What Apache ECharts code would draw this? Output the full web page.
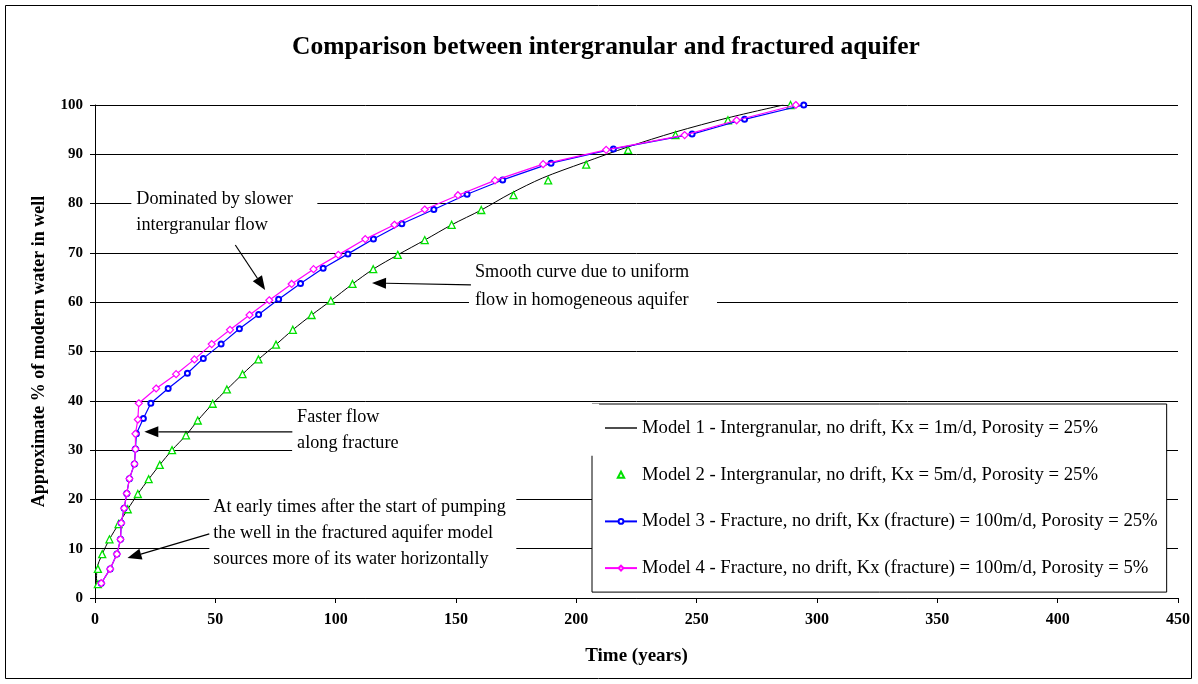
<!DOCTYPE html>
<html>
<head>
<meta charset="utf-8">
<script src="https://cdn.jsdelivr.net/npm/echarts@6/dist/echarts.min.js"></script>
<style>
html,body{margin:0;padding:0;background:#fff;}
#main{width:1198px;height:684px;}
</style>
</head>
<body>
<div id="main"></div>
<script>
// ---------- DATA ----------
const seriesNames = [
  'Model 1 - Intergranular, no drift, Kx = 1m/d, Porosity = 25%',
  'Model 2 - Intergranular, no drift, Kx = 5m/d, Porosity = 25%',
  'Model 3 - Fracture, no drift, Kx (fracture) = 100m/d, Porosity = 25%',
  'Model 4 - Fracture, no drift, Kx (fracture) = 100m/d, Porosity = 5%'
];
const model1Time = [0.6,0.8,3,6,9.8,13.6,17.8,22.3,26.9,32,37.8,42.7,48.9,54.8,61.3,67.9,75.2,82.2,90,98,107,115.6,125.8,137,148.2,160.5,172.5,186,203,221.5,241,263,286];
const model1Pct  = [2.8,5.9,8.9,11.9,15,18,21.1,24.1,27,30,33,36,39.4,42.3,45.4,48.4,51.4,54.4,57.4,60.3,63.7,66.7,69.6,72.6,75.7,78.7,82,85.2,88.3,91.5,94.5,97.4,100];
const model2Time = [1.2,1.2,3,6,9.8,13.6,17.8,22.3,26.9,32,37.8,42.7,48.9,54.8,61.3,67.9,75.2,82.2,90,98,107,115.6,125.8,137,148.2,160.5,173.9,188.3,204.1,221.5,241.2,263,289];
const model2Pct  = [2.8,5.9,8.9,11.9,15,18,21.1,24.1,27,30,33,36,39.4,42.3,45.4,48.4,51.4,54.4,57.4,60.3,63.7,66.7,69.6,72.6,75.7,78.7,81.7,84.7,87.9,90.9,93.9,96.9,100];
const model3Time = [2.6,6.3,9.1,10.6,10.9,12.1,13.2,14.3,16.4,16.8,17.2,20.1,23.2,30.4,38.4,45,52.4,60,68,76.3,85.4,94.8,105.1,115.7,127.5,140.8,154.6,169.4,189.5,215.4,248.1,269.9,294.5];
const model3Pct  = [3.0,5.9,8.9,11.9,15.2,18.2,21.2,24.2,27.2,30.2,33.3,36.4,39.5,42.5,45.6,48.6,51.5,54.6,57.5,60.6,63.8,66.9,69.8,72.8,75.9,78.8,81.9,84.8,88.2,91.1,94.1,97.1,100];
const model4Time = [2.6,6.3,9.1,10.6,10.9,12.1,13.2,14.3,16.4,16.8,16.8,17.8,18.2,25.4,33.7,41.3,48.5,56.1,64.2,72.4,81.7,90.8,101.1,112.3,124.4,137,150.8,166.2,186.2,212.4,245,266.6,291.2];
const model4Pct  = [3.0,5.9,8.9,11.9,15.2,18.2,21.2,24.2,27.2,30.2,33.3,36.2,39.5,42.5,45.4,48.4,51.5,54.4,57.4,60.4,63.7,66.7,69.6,72.8,75.7,78.8,81.7,84.7,88,90.9,93.9,96.9,100];
const titleText = 'Comparison between intergranular and fractured aquifer';
const xAxisTitle = 'Time (years)';
const yAxisTitle = 'Approximate % of modern water in well';
const annotationTexts = [
  'Dominated by slower\nintergranular flow',
  'Smooth curve due to uniform\nflow in homogeneous aquifer',
  'Faster flow\nalong fracture',
  'At early times after the start of pumping\nthe well in the fractured aquifer model\nsources more of its water horizontally'
];
// ---------- END DATA ----------

const pair = (xs, ys) => xs.map((x, i) => [x, ys[i]]);
const FONT = '"Liberation Serif", "Times New Roman", serif';

const triPath = 'path://M0,-10L9,7L-9,7Z';
const diaPath = 'path://M0,-10L10,0L0,10L-10,0Z';

const chart = echarts.init(document.getElementById('main'), null, {renderer: 'canvas'});

const option = {
  animation: false,
  backgroundColor: '#fff',
  textStyle: {fontFamily: FONT},
  title: {
    text: titleText,
    left: 601, textAlign: 'center', top: 29,
    textStyle: {fontFamily: FONT, fontSize: 25.5, fontWeight: 'bold', color: '#000'}
  },
  grid: {left: 95, right: 20, top: 105, bottom: 86, containLabel: false},
  xAxis: {
    type: 'value', min: 0, max: 450, interval: 50,
    name: xAxisTitle, nameLocation: 'middle', nameGap: 49,
    nameTextStyle: {fontFamily: FONT, fontSize: 19, fontWeight: 'bold', color: '#000'},
    axisLine: {lineStyle: {color: '#000', width: 1}},
    axisTick: {show: true, length: 5, lineStyle: {color: '#000'}},
    axisLabel: {fontFamily: FONT, fontSize: 16, fontWeight: 'bold', color: '#000', margin: 14},
    splitLine: {show: false}
  },
  yAxis: {
    type: 'value', min: 0, max: 100, interval: 10,
    name: yAxisTitle, nameLocation: 'middle', nameGap: 47,
    nameTextStyle: {fontFamily: FONT, fontSize: 18, fontWeight: 'bold', color: '#000'},
    axisLine: {show: true, lineStyle: {color: '#000', width: 1}},
    axisTick: {show: true, length: 5, lineStyle: {color: '#000'}},
    axisLabel: {fontFamily: FONT, fontSize: 15, fontWeight: 'bold', color: '#000', margin: 12},
    splitLine: {show: true, lineStyle: {color: '#000', width: 1}}
  },
  legend: {
    orient: 'vertical', left: 592, top: 404,
    padding: [14, 9, 14, 12],
    itemGap: 26.7, itemWidth: 32, itemHeight: 6,
    backgroundColor: '#fff', borderColor: '#000', borderWidth: 1,
    textStyle: {fontFamily: FONT, fontSize: 18.7, color: '#000', lineHeight: 20},
    data: [
      {name: seriesNames[0], icon: 'path://M0,0L32,0L32,1.4L0,1.4Z'},
      seriesNames[1], seriesNames[2], seriesNames[3]
    ]
  },
  series: [
    {
      name: seriesNames[0], type: 'line', data: pair(model1Time, model1Pct),
      showSymbol: false, symbol: 'none', smooth: 0.3,
      lineStyle: {color: '#000', width: 1}, itemStyle: {color: '#000'}, z: 3
    },
    {
      name: seriesNames[1], type: 'scatter', data: pair(model2Time, model2Pct),
      symbol: triPath, symbolSize: 7,
      itemStyle: {color: '#fff', borderColor: '#00e000', borderWidth: 1.3, opacity: 1}, z: 4
    },
    {
      name: seriesNames[2], type: 'line', data: pair(model3Time, model3Pct),
      symbol: 'emptyCircle', symbolSize: 5, showAllSymbol: true,
      lineStyle: {color: '#0000ff', width: 1.2},
      itemStyle: {color: '#0000ff', borderColor: '#0000ff', borderWidth: 1}, z: 5
    },
    {
      name: seriesNames[3], type: 'line', data: pair(model4Time, model4Pct),
      symbol: diaPath, symbolSize: 7, showAllSymbol: true,
      lineStyle: {color: '#ff00ff', width: 1.2},
      itemStyle: {color: '#fff', borderColor: '#ff00ff', borderWidth: 1.2}, z: 6
    }
  ]
};
chart.setOption(option);

// ---------- annotations (anchored in data coordinates) ----------
const annLayout = [
  {box: [15.1, 83.6], w: 186, h: 51, padL: 5, lh: 26},
  {box: [155.4, 69.0], w: 248, h: 56, padL: 6, lh: 28},
  {box: [81.9, 39.4], w: 307, h: 52, padL: 5, lh: 26},
  {box: [47.5, 21.1], w: 307, h: 79, padL: 4, lh: 26}
];
const arrows = [
  {from: [58.3, 71.6], to: [70.7, 62.5]},
  {from: [156.2, 63.5], to: [115.1, 63.9]},
  {from: [82.0, 33.7], to: [20.5, 33.7]},
  {from: [47.5, 13.0], to: [13.5, 8.1]}
];
const P = p => chart.convertToPixel({gridIndex: 0}, p);
const graphics = [];
annLayout.forEach((a, i) => {
  const [x, y] = P(a.box);
  graphics.push({type: 'rect', shape: {x: x, y: y, width: a.w, height: a.h},
    style: {fill: '#fff', stroke: null}, z: 10});
  graphics.push({type: 'text', x: x + a.padL, y: y, z: 11,
    style: {text: annotationTexts[i], font: '18.2px ' + FONT, fill: '#000',
      lineHeight: a.lh, textVerticalAlign: 'top', verticalAlign: 'top'}});
});
arrows.forEach(ar => {
  const [x1, y1] = P(ar.from), [x2, y2] = P(ar.to);
  const dx = x2 - x1, dy = y2 - y1, L = Math.hypot(dx, dy);
  const ux = dx / L, uy = dy / L, hl = 14, hw = 5.5;
  const bx = x2 - ux * hl, by = y2 - uy * hl;
  graphics.push({type: 'line', shape: {x1: x1, y1: y1, x2: bx, y2: by},
    style: {stroke: '#000', lineWidth: 1.2}, z: 12});
  graphics.push({type: 'polygon', shape: {points: [[x2, y2], [bx - uy * hw, by + ux * hw], [bx + uy * hw, by - ux * hw]]},
    style: {fill: '#000'}, z: 12});
});
// outer chart border
graphics.push({type: 'rect', shape: {x: 5.5, y: 5.5, width: 1186, height: 673},
  style: {fill: null, stroke: '#000', lineWidth: 1}, z: 20, silent: true});
chart.setOption({graphic: graphics});
</script>
</body>
</html>
